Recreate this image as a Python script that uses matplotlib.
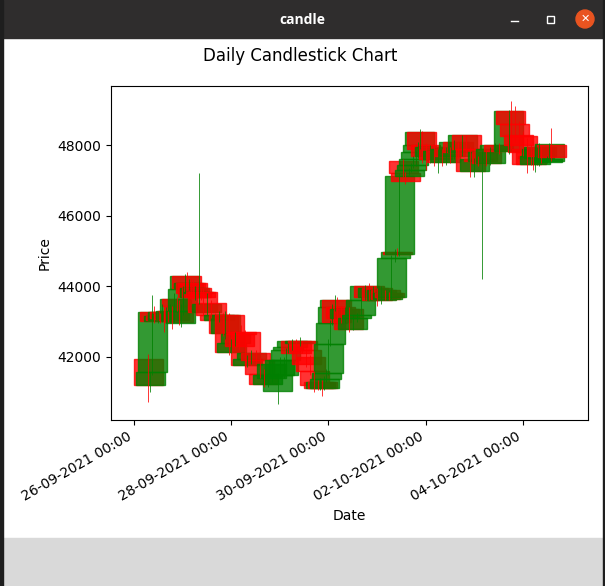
import matplotlib
matplotlib.use('Agg')
import matplotlib.pyplot as plt
import matplotlib.dates as mdates
from matplotlib.patches import Rectangle, Ellipse
from datetime import datetime, timedelta

# hours after 26-09-2021 00:00
hours = [7,8,9,10,12,13,14,15,16,17,18,19,20,21,22,23,24,25,26,27,28,29,30,31,32,33,34,36,38,40,
         42,44,45,47,48,50,52,53,55,56,58,60,62,64,66,68,71,72,74,75,76,78,80,82,83,85,87,89,91,92,
         93,94,95,96,97,98,99,100,102,104,106,108,110,112,114,116,118,120,122,124,125,126,127,129,130,131,133,134,
         136,137,138,139,140,141,142,144,146,148,150,152,154,156,158,160,162,164,166,168,170,172,174,176,178,180,
         185,186,188,190,192,194,196,197,198,199,200,201,204,205,206]
opens = [41950,41200,41570,43280,43020,43150,43050,43280,43100,43220,43080,43300,43050,43650,43450,42970,43300,43930,44300,43950,44100,44100,43700,43950,43800,43850,43850,43280,43530,43190,
         43050,43190,42680,43190,42140,42400,42650,42700,42700,41770,41950,42110,41900,41510,41230,41400,41040,41500,41500,41900,42200,42280,42450,42400,42450,42200,42000,41600,41300,41130,
         41300,41130,41370,41540,42370,42970,43420,43620,43400,43100,43350,42800,43100,43200,43620,44000,43700,43950,43600,43900,43650,43800,43700,44810,44980,44930,47540,47200,
         47140,47300,47450,47600,47800,48020,48380,48000,47700,47950,47600,47850,47530,47900,47700,48080,47800,48280,47900,47280,47600,47550,47800,47500,47900,48000,
         47830,48960,48600,48300,48250,47900,47800,47700,47480,47700,47650,47950,47530,47560,48000]
closes = [41200,41570,43280,43020,43150,43050,43280,43100,43220,43080,43300,43050,43650,43450,43000,43300,43930,44300,43950,44100,43800,43700,43950,43700,43850,43700,43280,43500,43190,43050,
          43190,42680,43200,42140,42400,42650,42300,42650,41770,41950,42110,41900,41510,41230,41500,41800,41500,41900,41900,42200,42280,42450,42100,42450,42200,41800,41600,41200,41130,41300,
          41130,41370,41540,42370,42970,43420,43620,43000,43100,43350,42800,43100,43200,43620,44000,43700,43950,43600,43900,43650,43800,43700,44810,44980,44930,47140,47200,47000,
          47300,47450,47600,47800,48020,48380,47900,47700,47950,47600,47850,47530,47900,47700,48080,47800,48280,47900,47280,47600,47550,47800,47500,47900,48000,47830,
          48960,48600,48250,48000,47800,47480,47480,47650,47700,47900,47950,47700,47600,48030,47680]
highs = [42080,41570,43760,43450,43300,43250,43500,43300,43400,43300,43500,43450,43800,43700,43600,43500,44000,44350,44400,44200,44250,44200,44000,44050,47200,43950,43950,43800,43600,43250,
         43300,43250,43300,43250,42500,42700,42700,42900,42750,42050,42200,42200,42000,41650,41550,41900,41550,42000,42000,42250,42400,42500,42500,42550,42450,42250,42050,41600,41350,41400,
         41350,41450,41650,42500,43050,43500,43750,43700,43450,43400,43400,43200,43250,43700,44050,44100,44000,43950,44000,43900,43850,43850,44900,45050,45100,47200,47600,47250,
         47350,47500,47700,47850,48100,48450,48400,48050,48000,48000,47900,47900,47950,47950,48150,48100,48300,48300,47950,47650,47700,47850,47850,47950,48050,48050,
         49000,49250,49100,48700,48400,48200,48000,47950,47750,47950,48050,48000,47700,48050,48500]
lows = [40730,40990,41500,42950,42950,42950,43000,42700,43000,43000,42950,42800,43000,43300,42900,42850,43200,43800,43900,43900,43600,43650,43600,43600,43500,43600,43200,43200,43100,42950,
        43000,42600,42500,42050,42100,42300,42200,42600,41700,41700,41800,41800,41400,41150,41150,41300,40650,41400,41400,41800,42100,42200,42000,42300,42100,41700,41500,41000,41050,41050,
        40900,41050,41300,41500,42300,42900,43300,42900,42950,42950,42700,42750,43000,43150,43600,43600,43650,43450,43500,43600,43600,43600,43650,44700,44850,44850,47100,46900,
        47150,47250,47350,47400,47650,47900,47500,47300,47500,47400,47200,47400,47450,47500,47600,47650,47700,47800,47100,47100,47400,44200,47400,47450,47800,47750,
        47750,47900,48100,47800,47700,47200,47450,47300,47250,47450,47400,47500,47500,47550,47550]

start = datetime(2021, 9, 26)
fig = plt.figure(figsize=(6.05, 5.86), dpi=100)
W, H = 605.0, 586.0
ax = fig.add_axes([111/W, 1-420/H, 477/W, 334/H])

for h, o, c, hi, lo in zip(hours, opens, closes, highs, lows):
    x = mdates.date2num(start + timedelta(hours=h))
    col = 'green' if c >= o else 'red'
    ax.vlines(x, lo, hi, color=col, lw=0.7, alpha=0.8)
    ax.add_patch(Rectangle((x-0.3, min(o, c)), 0.6, abs(c-o), facecolor=col, edgecolor=col, lw=1, alpha=0.8))

d0 = mdates.date2num(start)
ax.set_xlim(d0-0.473, d0+9.34)
ax.set_ylim(40210, 49680)
ax.set_yticks([42000, 44000, 46000, 48000])
ax.xaxis.set_major_locator(mdates.DayLocator(bymonthday=[26,28,30,2,4]))
ax.xaxis.set_major_formatter(mdates.DateFormatter('%d-%m-%Y %H:%M'))
plt.setp(ax.get_xticklabels(), rotation=30, ha='right')
ax.set_xlabel('Date')
ax.set_ylabel('Price')
fig.text(300/W, 1-56/H, 'Daily Candlestick Chart', ha='center', va='center', fontsize=12)

# window frame from the screenshot
fig.add_artist(Rectangle((0, 1-38/H), 1, 38/H, transform=fig.transFigure, color='#2f2d2d'))
fig.add_artist(Rectangle((0, 0), 1, 48/H, transform=fig.transFigure, color='#d9d9d9'))
fig.add_artist(Rectangle((0, 0), 3/W, 1, transform=fig.transFigure, color='#1e1e1e'))
fig.add_artist(Rectangle((603/W, 0), 2/W, 1, transform=fig.transFigure, color='#1e1e1e'))
fig.text(302/W, 1-20/H, 'candle', color='white', ha='center', va='center', fontsize=10, fontweight='bold', family='Open Sans')
fig.add_artist(plt.Line2D([511/W, 518/W], [1-21/H, 1-21/H], color='white', lw=1))
fig.add_artist(Rectangle((547/W, 1-23/H), 7/W, 7/H, transform=fig.transFigure, fill=False, edgecolor='white', lw=1))
fig.add_artist(Ellipse((585/W, 1-19/H), 18/W, 18/H, transform=fig.transFigure, color='#e95420'))
fig.text(585/W, 1-19/H, '✕', color='white', ha='center', va='center', fontsize=8)

fig.savefig('out.png', dpi=100)
